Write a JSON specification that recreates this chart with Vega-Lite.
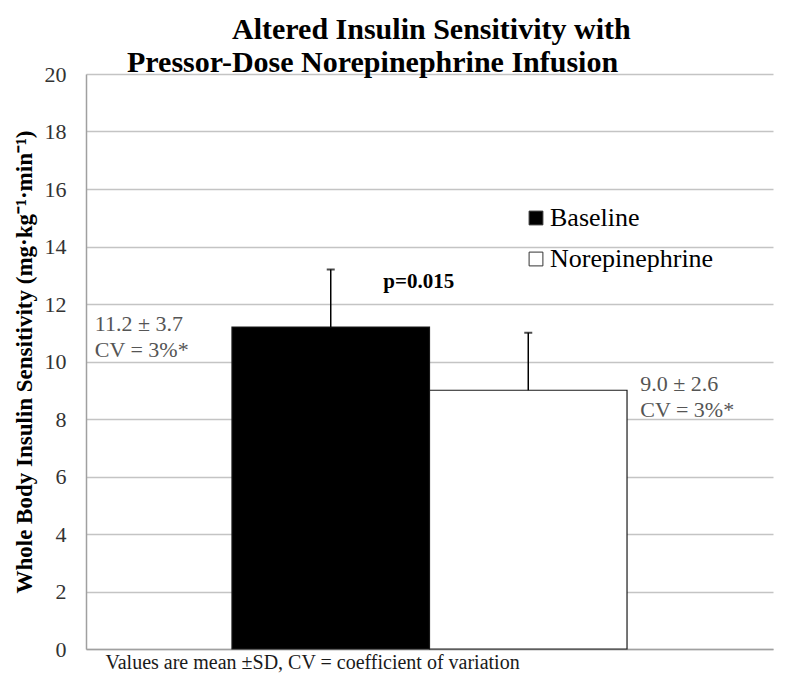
{
  "$schema": "https://vega.github.io/schema/vega-lite/v6.json",
  "width": 687,
  "height": 575,
  "autosize": {"type": "none"},
  "padding": {"left": 86, "top": 74, "right": 27, "bottom": 32},
  "background": "white",
  "config": {
    "font": "Liberation Serif",
    "view": {"stroke": null}
  },
  "title": {
    "text": ["\u200b\u00a0\u00a0\u00a0\u00a0\u00a0\u00a0\u00a0\u00a0\u00a0\u00a0\u00a0\u00a0\u00a0\u00a0Altered Insulin Sensitivity with", "Pressor-Dose Norepinephrine Infusion"],
    "anchor": "start",
    "frame": "group",
    "dx": 41,
    "offset": -45,
    "baseline": "bottom",
    "font": "Liberation Serif",
    "fontSize": 30,
    "fontWeight": "bold",
    "lineHeight": 33,
    "color": "black"
  },
  "data": {
    "values": [
      {"group": "Baseline", "value": 11.2, "upper": 13.2},
      {"group": "Norepinephrine", "value": 9.0, "upper": 11.0}
    ]
  },
  "encoding": {
    "x": {
      "field": "group",
      "type": "nominal",
      "scale": {"domain": ["Baseline", "Norepinephrine"], "paddingInner": 0, "paddingOuter": 0.739},
      "axis": {
        "labels": false,
        "ticks": false,
        "domainColor": "#a0a0a0",
        "domainWidth": 1.5,
        "title": "Values are mean ±SD, CV = coefficient of variation",
        "titleFont": "Liberation Serif",
        "titleFontSize": 20,
        "titleFontWeight": "normal",
        "titleColor": "#1a1a1a",
        "titleAnchor": "start",
        "titleAlign": "left",
        "titleBaseline": "alphabetic",
        "titleX": 19,
        "titleY": 19
      }
    }
  },
  "layer": [
    {
      "mark": {"type": "bar", "stroke": "#1a1a1a", "strokeWidth": 1.2},
      "encoding": {
        "y": {
          "field": "value",
          "type": "quantitative",
          "scale": {"domain": [0, 20], "nice": false},
          "axis": {
            "values": [0, 2, 4, 6, 8, 10, 12, 14, 16, 18, 20],
            "grid": true,
            "gridColor": "#c4c4c4",
            "gridWidth": 1.5,
            "ticks": false,
            "domainColor": "#a0a0a0",
            "domainWidth": 1.5,
            "labelFont": "Liberation Serif",
            "labelFontSize": 22,
            "labelColor": "#333333",
            "labelPadding": 20,
            "title": "Whole Body Insulin Sensitivity (mg·kg⁻¹·min⁻¹)",
            "titleFont": "Liberation Serif",
            "titleFontSize": 23,
            "titleFontWeight": "bold",
            "titleColor": "black",
            "titlePadding": 8
          }
        },
        "fill": {
          "field": "group",
          "type": "nominal",
          "scale": {"domain": ["Baseline", "Norepinephrine"], "range": ["black", "white"]},
          "legend": {
            "title": null,
            "orient": "none",
            "legendX": 437,
            "legendY": 131,
            "symbolType": "square",
            "symbolSize": 190,
            "symbolStrokeColor": "#333333",
            "symbolStrokeWidth": 1,
            "labelFont": "Liberation Serif",
            "labelFontSize": 26,
            "labelColor": "black",
            "labelOffset": 1,
            "labelLimit": 400,
            "rowPadding": 15
          }
        }
      }
    },
    {
      "mark": {"type": "rule", "color": "black", "strokeWidth": 1.5},
      "encoding": {
        "y": {"field": "value", "type": "quantitative"},
        "y2": {"field": "upper"}
      }
    },
    {
      "mark": {"type": "tick", "color": "black", "thickness": 2, "size": 8, "orient": "horizontal"},
      "encoding": {
        "y": {"field": "upper", "type": "quantitative"}
      }
    },
    {
      "data": {"values": [{"group": "Baseline", "y": 12.56, "label": "p=0.015"}]},
      "mark": {"type": "text", "align": "center", "baseline": "alphabetic", "dx": 88, "font": "Liberation Serif", "fontSize": 21, "fontWeight": "bold", "color": "black"},
      "encoding": {
        "y": {"field": "y", "type": "quantitative"},
        "text": {"field": "label"}
      }
    },
    {
      "data": {"values": [{"group": "Baseline", "y": 11.06, "label": "11.2 ± 3.7\nCV = 3%*"}]},
      "mark": {"type": "text", "align": "left", "baseline": "alphabetic", "dx": -236, "lineBreak": "\n", "lineHeight": 26, "font": "Liberation Serif", "fontSize": 22, "color": "#555555"},
      "encoding": {
        "y": {"field": "y", "type": "quantitative"},
        "text": {"field": "label"}
      }
    },
    {
      "data": {"values": [{"group": "Norepinephrine", "y": 8.97, "label": "9.0 ± 2.6\nCV = 3%*"}]},
      "mark": {"type": "text", "align": "left", "baseline": "alphabetic", "dx": 112, "lineBreak": "\n", "lineHeight": 26, "font": "Liberation Serif", "fontSize": 22, "color": "#555555"},
      "encoding": {
        "y": {"field": "y", "type": "quantitative"},
        "text": {"field": "label"}
      }
    }
  ]
}
